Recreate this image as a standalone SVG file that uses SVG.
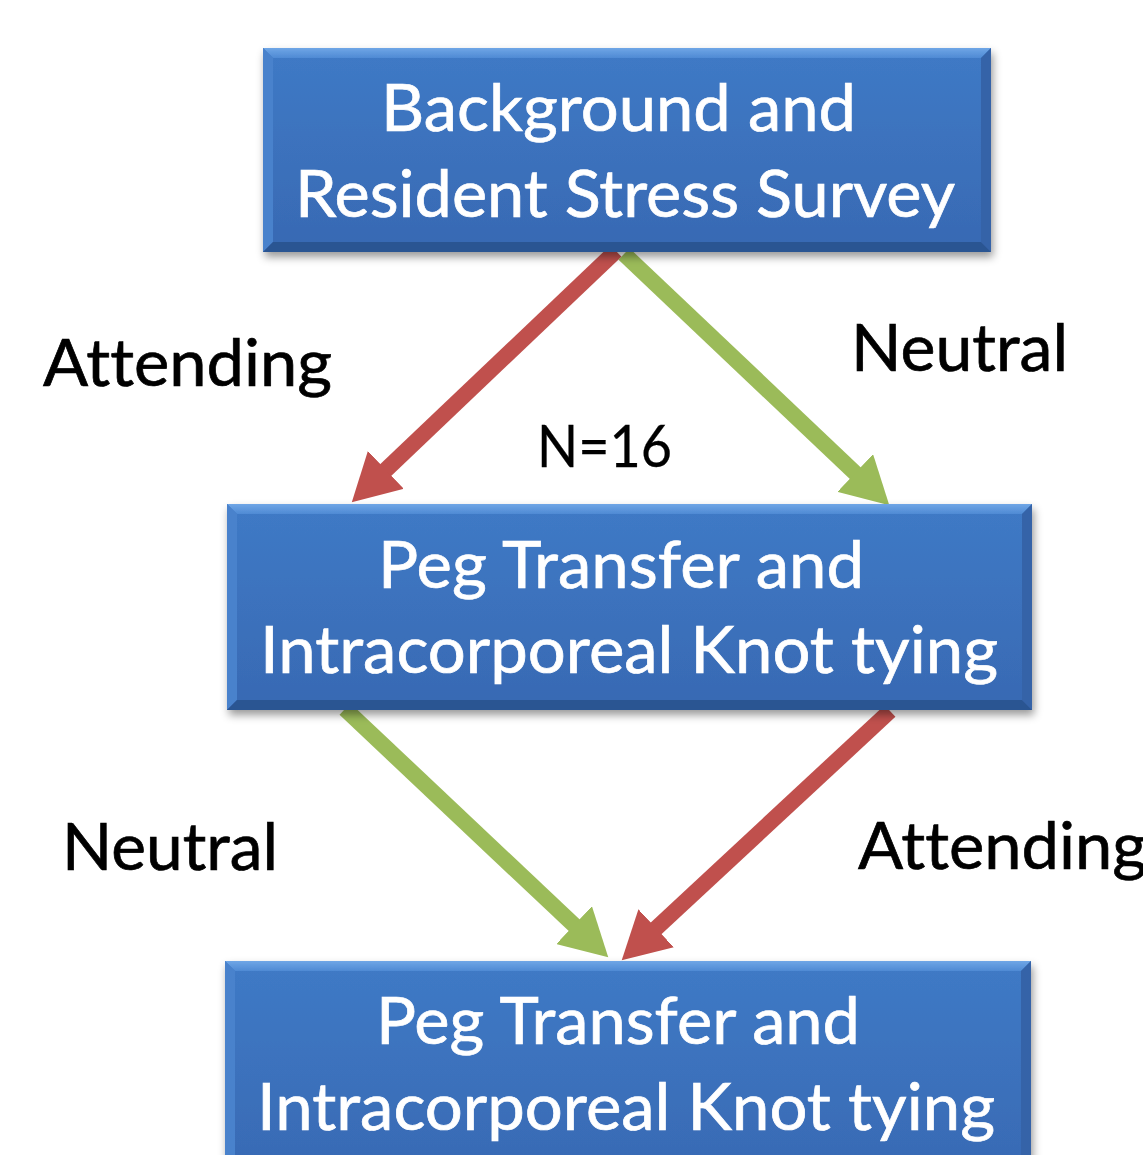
<svg xmlns="http://www.w3.org/2000/svg" width="1143" height="1155" viewBox="0 0 1143 1155">
  <style>
    .face { fill: url(#faceGrad); }
    .bv-top { fill: url(#topGrad); }
    .bv-left { fill: #4a82cc; }
    .bv-right { fill: #3464a8; }
    .bv-bottom { fill: #2b5592; }
    text { font-variant-ligatures: none; font-feature-settings: "liga" 0, "dlig" 0; }
    .box-text { font-family: Lato, "Open Sans", "Liberation Sans", sans-serif; font-size: 66px; fill: #ffffff; stroke: #ffffff; stroke-width: 0.7; }
    .label { font-family: Lato, "Open Sans", "Liberation Sans", sans-serif; font-size: 66px; fill: #000000; stroke: #000000; stroke-width: 0.7; }
    .red { stroke: #c0504d; stroke-width: 16; fill: none; }
    .green { stroke: #9bbb59; stroke-width: 16; fill: none; }
  </style>
  <defs>
    <linearGradient id="faceGrad" x1="0" y1="0" x2="0" y2="1">
      <stop offset="0" stop-color="#3f7ac6"/>
      <stop offset="1" stop-color="#3869b3"/>
    </linearGradient>
    <linearGradient id="topGrad" x1="0" y1="0" x2="0" y2="1">
      <stop offset="0" stop-color="#6fa6e6"/>
      <stop offset="1" stop-color="#4f8ad4"/>
    </linearGradient>
    <filter id="shadow" x="-5%" y="-10%" width="110%" height="130%">
      <feDropShadow dx="2" dy="5" stdDeviation="4" flood-color="#000000" flood-opacity="0.4"/>
    </filter>
    <marker id="headRed" markerUnits="userSpaceOnUse" markerWidth="48" markerHeight="52" viewBox="0 0 48 52" refX="1" refY="26" orient="auto">
      <path d="M0,0 L47,26 L0,52 z" fill="#c0504d"/>
    </marker>
    <marker id="headGreen" markerUnits="userSpaceOnUse" markerWidth="48" markerHeight="52" viewBox="0 0 48 52" refX="1" refY="26" orient="auto">
      <path d="M0,0 L47,26 L0,52 z" fill="#9bbb59"/>
    </marker>
  </defs>

  <rect x="0" y="0" width="1143" height="1155" fill="#ffffff"/>

  <!-- connectors -->
  <g id="connectors">
    <line class="red" x1="616" y1="251" x2="385.1" y2="470.6" marker-end="url(#headRed)"/>
    <line class="green" x1="624" y1="254" x2="855.9" y2="473.7" marker-end="url(#headGreen)"/>
    <line class="green" x1="345" y1="709" x2="574.8" y2="925.8" marker-end="url(#headGreen)"/>
    <line class="red" x1="890" y1="711" x2="655.4" y2="929" marker-end="url(#headRed)"/>
  </g>

  <!-- survey box -->
  <g id="survey" filter="url(#shadow)">
    <rect class="face" x="263" y="48" width="728" height="204"/>
    <polygon class="bv-top" points="263,48 991,48 981,58 273,58"/>
    <polygon class="bv-left" points="263,48 273,58 273,242 263,252"/>
    <polygon class="bv-right" points="991,48 991,252 981,242 981,58"/>
    <polygon class="bv-bottom" points="263,252 273,242 981,242 991,252"/>
    <text class="box-text" x="381" y="131" textLength="475" lengthAdjust="spacingAndGlyphs">Background and</text>
    <text class="box-text" x="295" y="217" textLength="660" lengthAdjust="spacingAndGlyphs">Resident Stress Survey</text>
  </g>

  <!-- first skills session -->
  <g id="session1" filter="url(#shadow)">
    <rect class="face" x="227" y="504" width="805" height="206"/>
    <polygon class="bv-top" points="227,504 1032,504 1022,514 237,514"/>
    <polygon class="bv-left" points="227,504 237,514 237,700 227,710"/>
    <polygon class="bv-right" points="1032,504 1032,710 1022,700 1022,514"/>
    <polygon class="bv-bottom" points="227,710 237,700 1022,700 1032,710"/>
    <text class="box-text" x="378" y="588" textLength="486" lengthAdjust="spacingAndGlyphs">Peg Transfer and</text>
    <text class="box-text" x="260" y="673" textLength="738" lengthAdjust="spacingAndGlyphs">Intracorporeal Knot tying</text>
  </g>

  <!-- second skills session -->
  <g id="session2" filter="url(#shadow)">
    <rect class="face" x="225" y="961" width="806" height="220"/>
    <polygon class="bv-top" points="225,961 1031,961 1021,971 235,971"/>
    <polygon class="bv-left" points="225,961 235,971 235,1181 225,1181"/>
    <polygon class="bv-right" points="1031,961 1031,1181 1021,1181 1021,971"/>
    <text class="box-text" x="376" y="1044" textLength="484" lengthAdjust="spacingAndGlyphs">Peg Transfer and</text>
    <text class="box-text" x="257" y="1130" textLength="738" lengthAdjust="spacingAndGlyphs">Intracorporeal Knot tying</text>
  </g>

  <!-- branch labels -->
  <g id="labels">
    <text class="label" x="43" y="386" textLength="289" lengthAdjust="spacingAndGlyphs">Attending</text>
    <text class="label" x="851" y="371" textLength="217" lengthAdjust="spacingAndGlyphs">Neutral</text>
    <text class="label" x="537" y="467" style="font-size:58px; stroke-width:0.3" textLength="135" lengthAdjust="spacingAndGlyphs">N=16</text>
    <text class="label" x="62" y="870" textLength="216" lengthAdjust="spacingAndGlyphs">Neutral</text>
    <text class="label" x="858" y="869" textLength="289" lengthAdjust="spacingAndGlyphs">Attending</text>
  </g>
</svg>
